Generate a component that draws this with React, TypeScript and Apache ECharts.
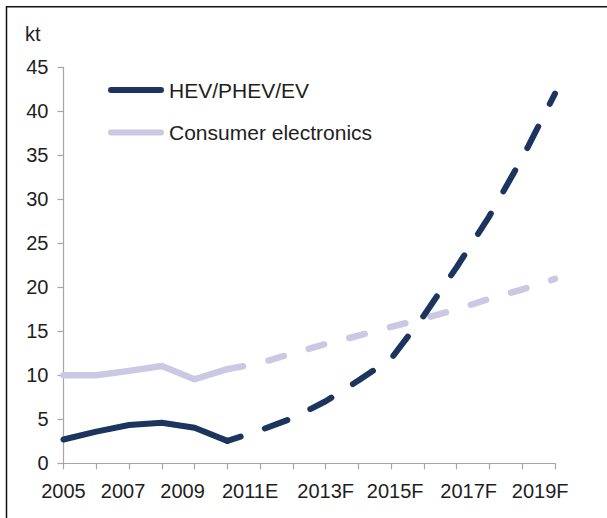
import React, { useEffect, useRef } from "react";
import * as echarts from "echarts";

// Years on the category axis (2011 is an estimate, later years are forecasts)
const YEARS = [
  "2005", "2006", "2007", "2008", "2009", "2010",
  "2011E", "2012F", "2013F", "2014F", "2015F", "2016F",
  "2017F", "2018F", "2019F", "2020F",
];

// Demand in kilotonnes
const HEV_PHEV_EV = [2.7, 3.6, 4.35, 4.6, 4.05, 2.55, 3.75, 5.15, 7.05, 9.4, 11.9, 16.8, 22.3, 28.1, 34.7, 42.0];
const CONSUMER_ELECTRONICS = [10.0, 10.0, 10.5, 11.05, 9.55, 10.7, 11.4, 12.5, 13.55, 14.5, 15.5, 16.45, 17.5, 18.7, 19.75, 20.95];

// Last year of actual figures; the line turns dashed from here on
const LAST_ACTUAL_INDEX = 5;

const Y_MIN = 0;
const Y_MAX = 45;
const Y_STEP = 5;

const SERIES_NAMES = ["HEV/PHEV/EV", "Consumer electronics"];

const NAVY = "#1c355e";
const LAVENDER = "#cbc8e4";
const TEXT = "#1e1e1e";
const AXIS = "#a6a6a6";
const FONT = "'Liberation Sans', Arial, Helvetica, sans-serif";

const actualPart = (arr: number[]) => arr.map((v, i) => (i <= LAST_ACTUAL_INDEX ? v : "-"));
const forecastPart = (arr: number[]) => arr.map((v, i) => (i >= LAST_ACTUAL_INDEX ? v : "-"));

// Small horizontal nudges for the year labels (px, + = right)
const LABEL_NUDGE: Record<string, number> = {
  "2007": -6,
  "2009": -12,
  "2011E": -10,
  "2015F": 4,
  "2017F": 12,
  "2019F": 18,
};

function nudgeKey(d: number) {
  return d >= 0 ? `p${d}` : `m${-d}`;
}

function buildRich() {
  const rich: Record<string, any> = {};
  const values = [0, ...Object.values(LABEL_NUDGE)];
  values.forEach((d) => {
    rich[nudgeKey(d)] = {
      fontSize: 20,
      fontFamily: FONT,
      color: TEXT,
      padding: d >= 0 ? [0, 0, 0, 2 * d] : [0, -2 * d, 0, 0],
    };
  });
  return rich;
}

const capsule = "path://M3,0 L53,0 A3,3 0 0 1 53,6 L3,6 A3,3 0 0 1 3,0 Z";

export default function App() {
  const ref = useRef<HTMLDivElement>(null);

  useEffect(() => {
    if (!ref.current) return;
    const chart = echarts.init(ref.current, null, { renderer: "svg" });

    const lineSeries = (
      name: string,
      data: (number | string)[],
      color: string,
      width: number,
      dash: number[] | null,
      dashOffset: number,
      z: number
    ) => ({
      name,
      type: "line",
      data,
      showSymbol: false,
      symbol: "none",
      connectNulls: false,
      z,
      itemStyle: { color },
      lineStyle: {
        color,
        width,
        cap: "round",
        join: "round",
        type: dash ? dash : "solid",
        dashOffset,
      },
      emphasis: { disabled: true },
    });

    chart.setOption({
      animation: false,
      backgroundColor: "#ffffff",
      textStyle: { fontFamily: FONT, color: TEXT },
      title: {
        text: "kt",
        left: 20,
        top: 19,
        textStyle: { fontSize: 20, fontWeight: "normal", color: TEXT, fontFamily: FONT },
      },
      legend: {
        data: SERIES_NAMES,
        orient: "vertical",
        left: 108,
        top: 78,
        padding: 0,
        itemWidth: 56,
        itemHeight: 6,
        itemGap: 18.6,
        icon: capsule,
        selectedMode: false,
        textStyle: { fontSize: 21, lineHeight: 24, color: TEXT, fontFamily: FONT },
      },
      grid: {
        left: 63.5,
        right: 52,
        top: 67.3,
        bottom: 54.7,
        containLabel: false,
      },
      xAxis: {
        type: "category",
        data: YEARS,
        boundaryGap: false,
        axisLine: { show: true, lineStyle: { color: AXIS, width: 1.2 } },
        axisTick: { show: true, interval: 0, length: 6, lineStyle: { color: AXIS, width: 1.2 } },
        splitLine: { show: false },
        axisLabel: {
          interval: 1,
          margin: 18,
          fontSize: 20,
          color: TEXT,
          fontFamily: FONT,
          formatter: (value: string) => {
            const d = LABEL_NUDGE[value] ?? 0;
            return `{${nudgeKey(d)}|${value}}`;
          },
          rich: buildRich(),
        },
      },
      yAxis: {
        type: "value",
        min: Y_MIN,
        max: Y_MAX,
        interval: Y_STEP,
        axisLine: { show: true, lineStyle: { color: AXIS, width: 1.2 } },
        axisTick: { show: true, length: 6, lineStyle: { color: AXIS, width: 1.2 } },
        splitLine: { show: false },
        axisLabel: { margin: 15, fontSize: 20, color: TEXT, fontFamily: FONT },
      },
      series: [
        lineSeries(SERIES_NAMES[1], actualPart(CONSUMER_ELECTRONICS), LAVENDER, 6.5, null, 0, 2),
        lineSeries("Consumer electronics forecast", forecastPart(CONSUMER_ELECTRONICS), LAVENDER, 6.5, [16, 26], 0, 2),
        lineSeries(SERIES_NAMES[0], actualPart(HEV_PHEV_EV), NAVY, 6, null, 0, 3),
        lineSeries("HEV/PHEV/EV forecast", forecastPart(HEV_PHEV_EV), NAVY, 6, [24, 25.5], 10, 3),
      ],
      graphic: [
        {
          type: "rect",
          silent: true,
          z: 100,
          shape: { x: 6.5, y: 6.75, width: 700, height: 700 },
          style: { fill: "none", stroke: "#111111", lineWidth: 1.5 },
        },
      ],
    });

    return () => chart.dispose();
  }, []);

  return (
    <div
      ref={ref}
      style={{ position: "fixed", left: 0, top: 0, width: 607, height: 518, background: "#fff" }}
    />
  );
}
